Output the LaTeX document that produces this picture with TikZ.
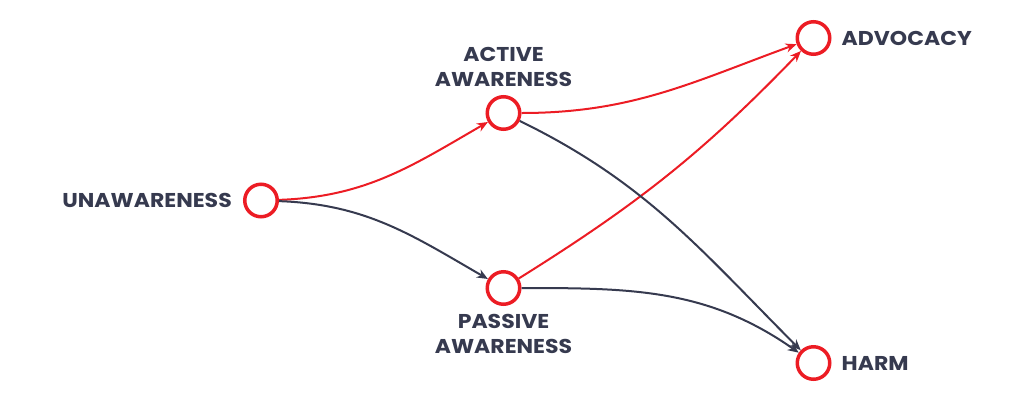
\documentclass[tikz,border=0pt]{standalone}
\usepackage{fontspec}
\setmainfont{Poppins}[FakeStretch=1.1]
\usetikzlibrary{positioning,arrows.meta}
\definecolor{stagered}{HTML}{EC1C24}
\definecolor{stageink}{HTML}{363A4F}

\begin{document}
\begin{tikzpicture}[x=1pt,y=1pt,
		stage/.style={circle,draw=stagered,line width=3.5pt,minimum size=32.5pt,inner sep=0pt},
		caption/.style={text=stageink,font=\fontsize{20}{25}\selectfont\bfseries,inner sep=0pt,align=center},
		goodflow/.style={stagered,line width=2pt,-{Stealth[length=11pt,width=9pt]}},
		badflow/.style={stageink,line width=2pt,-{Stealth[length=11pt,width=9pt]}}]
	\useasboundingbox (0,0) rectangle (1024,-400);

	\node[stage] (un) at (261,-200.5) {};
	\node[stage] (act) at (503.5,-113) {};
	\node[stage] (pas) at (503.5,-288) {};
	\node[stage] (adv) at (813.5,-38) {};
	\node[stage] (harm) at (813.5,-363) {};

	\node[caption,left=11pt of un] (unlabel) {UNAWARENESS};
	\node[caption,above=8pt of act] (actlabel) {ACTIVE\\AWARENESS};
	\node[caption,below=8pt of pas] (paslabel) {PASSIVE\\AWARENESS};
	\node[caption,right=10pt of adv] (advlabel) {ADVOCACY};
	\node[caption,right=10pt of harm] (harmlabel) {HARM};

	\draw[goodflow] (un) to[out=2,in=210] (act);
	\draw[badflow] (un) to[out=-2,in=150] (pas);
	\draw[goodflow] (act) to[out=0,in=200] (adv);
	\draw[goodflow] (pas) to[out=32,in=226] (adv);
	\draw[badflow] (act) to[out=-26,in=135] (harm);
	\draw[badflow] (pas) to[out=0,in=145] (harm);
\end{tikzpicture}
\end{document}
